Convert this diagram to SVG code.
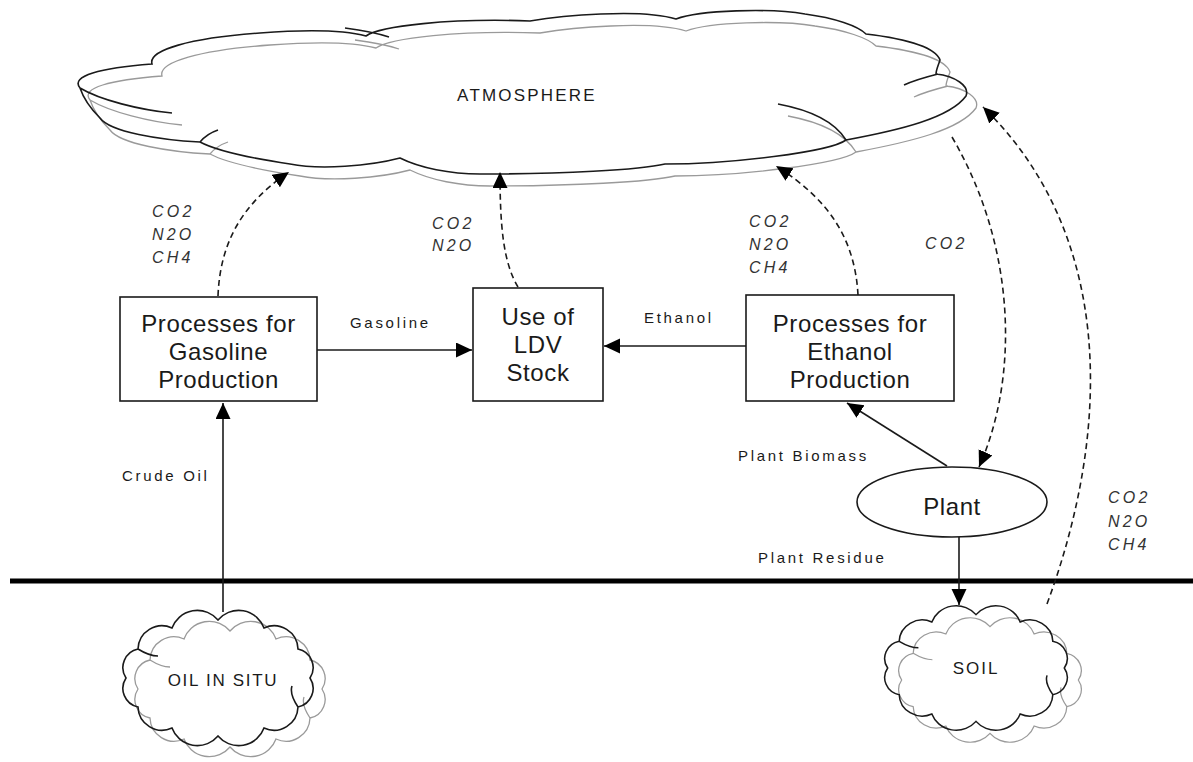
<svg xmlns="http://www.w3.org/2000/svg" xmlns:xlink="http://www.w3.org/1999/xlink" width="1193" height="762" viewBox="0 0 1193 762">
<style>
.bg{fill:#ffffff}
.box{fill:none;stroke:#1a1a1a;stroke-width:1.6}
.cb{fill:none;stroke:#1a1a1a;stroke-width:1.6}
.cg{fill:none;stroke:#9a9a9a;stroke-width:1.3}
.big{font-family:"Liberation Sans",Arial,sans-serif;font-size:24px;fill:#1a1a1a;text-anchor:middle;letter-spacing:0.6px}
.lbl{font-family:"Liberation Sans",Arial,sans-serif;font-size:15px;fill:#1a1a1a;letter-spacing:2.7px}
.cap{font-family:"Liberation Sans",Arial,sans-serif;font-size:17px;fill:#1a1a1a;letter-spacing:2.2px;text-anchor:middle}
.gas{font-family:"Liberation Sans",Arial,sans-serif;font-size:16px;font-style:italic;fill:#333;letter-spacing:3.2px}
.solid{fill:none;stroke:#1a1a1a;stroke-width:1.6}
.dash{fill:none;stroke:#1a1a1a;stroke-width:1.6;stroke-dasharray:6 4}
.ground{stroke:#000;stroke-width:5}
</style>
<defs>
<marker id="ah" markerUnits="userSpaceOnUse" markerWidth="18" markerHeight="16" refX="16" refY="7.5" orient="auto">
<path d="M0,0 L16,7.5 L0,15 Z" fill="#000"/>
</marker>
<path id="atm" d="M80,88 C70,76 100,68 152,64 C148,50 190,38 260,33 C300,30 340,29 366,36 C380,26 450,18 530,21 C560,16 640,8 676,19 C700,10 770,8 805,14 C835,18 858,26 866,34 C900,38 935,46 940,60 C938,66 936,70 936,74 C955,76 970,86 966,96 C950,118 900,130 846,140 C830,152 730,164 665,164 C640,170 560,174 480,174 C450,174 420,168 400,158 C370,166 320,170 290,164 C250,158 215,150 200,142 C160,140 110,132 100,118 C92,110 84,100 80,88 Z M80,88 C100,100 140,110 172,113 M345,28 C360,30 380,34 389,37 M904,85 C915,80 930,76 938,74 M778,104 C810,110 835,122 846,140 M200,142 C205,136 212,132 218,130"/>
<path id="cl" d="M92,0 A19,19 0 0 1 80,29 A24,24 0 0 1 46,50 A27,27 0 0 1 0,58 A27,27 0 0 1 -46,50 A24,24 0 0 1 -80,29 A19,19 0 0 1 -92,0 A19,19 0 0 1 -80,-29 A24,24 0 0 1 -46,-50 A27,27 0 0 1 0,-58 A27,27 0 0 1 46,-50 A24,24 0 0 1 80,-29 A19,19 0 0 1 92,0 Z M80,29 C74,20 72,14 74,8 M-80,-29 C-72,-24 -66,-22 -60,-22"/>
</defs>
<rect class="bg" x="0" y="0" width="1193" height="762"/>

<g id="atmosphere">
<use xlink:href="#atm" class="cg" transform="translate(10,12)"/>
<use xlink:href="#atm" class="cb"/>
<text class="cap" x="527" y="101">ATMOSPHERE</text>
</g>

<g id="ground-line">
<line class="ground" x1="10" y1="581" x2="1193" y2="581"/>
</g>

<g id="oil-in-situ">
<use xlink:href="#cl" class="cg" transform="translate(230,689)"/>
<use xlink:href="#cl" class="cb" transform="translate(218,678)"/>
<text class="cap" x="223" y="686" style="letter-spacing:1.7px">OIL IN SITU</text>
</g>

<g id="soil">
<use xlink:href="#cl" class="cg" transform="translate(990,680) scale(0.96,0.92)"/>
<use xlink:href="#cl" class="cb" transform="translate(976,668) scale(0.96,0.92)"/>
<text class="cap" x="976" y="674" style="letter-spacing:2px">SOIL</text>
</g>

<g id="gasoline-production">
<rect class="box" x="120" y="297" width="197" height="104"/>
<text class="big" x="218.5" y="332">Processes for</text>
<text class="big" x="218.5" y="360">Gasoline</text>
<text class="big" x="218.5" y="388">Production</text>
</g>

<g id="ldv-stock">
<rect class="box" x="473" y="288" width="130" height="113"/>
<text class="big" x="538" y="325">Use of</text>
<text class="big" x="538" y="353">LDV</text>
<text class="big" x="538" y="381">Stock</text>
</g>

<g id="ethanol-production">
<rect class="box" x="746" y="295" width="208" height="106"/>
<text class="big" x="850" y="332">Processes for</text>
<text class="big" x="850" y="360">Ethanol</text>
<text class="big" x="850" y="388">Production</text>
</g>

<g id="plant">
<ellipse class="box" cx="952" cy="502" rx="95" ry="35"/>
<text class="big" x="952" y="515">Plant</text>
</g>

<g id="connectors">
<line class="solid" x1="317" y1="350" x2="472" y2="350" marker-end="url(#ah)"/>
<line class="solid" x1="746" y1="346" x2="604" y2="346" marker-end="url(#ah)"/>
<line class="solid" x1="223" y1="612" x2="223" y2="403" marker-end="url(#ah)"/>
<line class="solid" x1="947" y1="466" x2="847" y2="403" marker-end="url(#ah)"/>
<line class="solid" x1="959" y1="537" x2="959" y2="605" marker-end="url(#ah)"/>
<path class="dash" d="M218,296 C220,245 240,205 289,172" marker-end="url(#ah)"/>
<path class="dash" d="M518,287 C503,262 500,225 500,172" marker-end="url(#ah)"/>
<path class="dash" d="M858,295 C855,240 830,200 776,166" marker-end="url(#ah)"/>
<path class="dash" d="M952,137 C1018,250 1018,380 979,467" marker-end="url(#ah)"/>
<path class="dash" d="M1047,604 C1115,420 1110,230 983,107" marker-end="url(#ah)"/>
</g>

<g id="labels">
<text class="lbl" x="350" y="328">Gasoline</text>
<text class="lbl" x="644" y="323">Ethanol</text>
<text class="lbl" x="738" y="461">Plant Biomass</text>
<text class="lbl" x="758" y="563">Plant Residue</text>
<text class="lbl" x="122" y="481">Crude Oil</text>
<text class="gas" x="152" y="217">CO2</text>
<text class="gas" x="152" y="240">N2O</text>
<text class="gas" x="152" y="263">CH4</text>
<text class="gas" x="432" y="229">CO2</text>
<text class="gas" x="432" y="251">N2O</text>
<text class="gas" x="749" y="227">CO2</text>
<text class="gas" x="749" y="250">N2O</text>
<text class="gas" x="749" y="273">CH4</text>
<text class="gas" x="925" y="249">CO2</text>
<text class="gas" x="1108" y="503">CO2</text>
<text class="gas" x="1108" y="527">N2O</text>
<text class="gas" x="1108" y="550">CH4</text>
</g>
</svg>
